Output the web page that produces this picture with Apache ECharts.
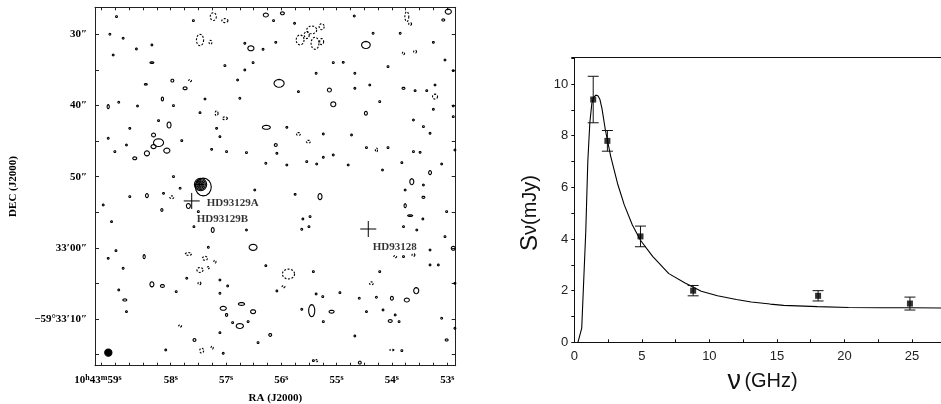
<!DOCTYPE html>
<html><head><meta charset="utf-8">
<script src="https://cdn.jsdelivr.net/npm/echarts@6/dist/echarts.min.js"></script>
<style>html,body{margin:0;padding:0;background:#fff}#c{width:941px;height:404px}</style>
</head><body><div id="c"></div>
<script>
// ================= LEFT PANEL: contour map (RA seconds of 10h43m, Dec arcsec past -59°32') =================
const raRange = [52.846, 59.369];
const decRange = [26.21, 76.55];
const raTickValues = [53,53.25,53.5,53.75,54,54.25,54.5,54.75,55,55.25,55.5,55.75,56,56.25,56.5,56.75,57,57.25,57.5,57.75,58,58.25,58.5,58.75,59,59.25];
const raLabelValues = [53,54,55,56,57,58,59];
const raLabels = ['53','54','55','56','57','58','59'];
const decTickValues = [30,35,40,45,50,55,60,65,70,75];
const decLabelValues = [30,40,50,60,70];
const decLabels = ['30″','40″','50″','33′00″','−59°33′10″'];

const T = 0.25; // tiny contour islands (arcsec)
// positive contours: [RA s, Dec ", width ", height "]
const posContours = [
[58.98,27.52,T,T],[57.59,28.08,T,T],[56.28,27.29,0.7,0.55],[56.14,28.08,T,T],[55.98,27.05,0.55,0.4],[55.76,28.46,T,T],[54.68,27.43,T,T],[52.98,26.82,0.85,0.7],[53.07,27.99,0.4,0.3],
[59.10,30.00,T,T],[58.86,30.56,T,T],[58.34,31.50,T,T],[58.62,32.06,T,T],[59.04,32.91,T,T],[56.66,31.27,T,T],[56.55,31.97,0.85,0.7],[56.33,32.11,T,T],[56.10,31.13,T,T],[54.47,31.50,1.2,1.0],[54.34,29.86,T,T],[53.85,29.86,T,T],[53.25,31.13,T,T],
[58.34,33.98,0.55,0.2],[57.02,34.40,T,T],[56.66,35.01,T,T],[56.51,33.98,T,T],[55.06,33.98,T,T],[54.88,33.94,T,T],[55.37,35.48,T,T],[54.67,35.48,T,T],[54.07,34.54,T,T],[53.04,33.61,T,T],[52.89,35.11,T,T],
[57.97,36.51,0.4,0.4],[57.74,37.59,0.55,0.4],[58.45,37.03,0.4,0.2],[56.79,36.42,T,T],[56.04,36.89,1.4,1.1],[55.69,38.06,T,T],[55.13,37.82,0.55,0.55],[54.67,37.59,T,T],[54.40,37.12,T,T],[53.79,37.59,0.4,0.3],[53.58,37.92,T,T],[53.37,37.92,T,T],[53.22,37.12,T,T],
[58.15,39.09,0.3,0.55],[58.94,39.55,T,T],[59.13,40.16,0.3,0.55],[58.60,40.07,T,T],[57.95,40.02,T,T],[57.38,39.09,T,T],[56.75,38.99,T,T],[55.06,39.83,0.7,0.7],[54.22,39.46,T,T],[53.25,40.54,T,T],[52.89,40.07,T,T],
[57.47,41.01,T,T],[58.03,42.74,0.55,0.85],[58.22,42.13,T,T],[58.74,43.21,T,T],[57.17,43.21,T,T],[57.11,44.38,T,T],[56.27,43.07,1.1,0.55],[55.90,43.07,T,T],[54.47,41.10,0.4,0.55],[53.61,42.04,T,T],[53.43,42.97,T,T],[52.89,41.57,T,T],
[59.13,44.61,T,T],[58.80,45.55,T,T],[58.31,44.14,0.55,0.55],[58.22,45.22,1.4,1.1],[58.31,45.78,0.7,0.55],[58.43,46.72,0.7,0.7],[58.65,47.42,0.55,0.4],[58.07,46.34,0.85,0.7],[57.80,44.94,T,T],[57.26,46.16,T,T],[56.99,46.48,T,T],[56.63,46.62,T,T],[56.10,45.55,0.4,0.4],[56.08,46.72,T,T],[55.24,44.00,T,T],[54.73,44.14,T,T],[54.46,45.92,T,T],[54.07,45.92,T,T],[53.61,46.48,T,T],[53.49,46.58,T,T],[53.31,43.91,T,T],[52.86,46.25,T,T],[59.01,46.48,T,T],
[55.54,47.89,T,T],[55.36,48.22,T,T],[55.24,47.28,T,T],[55.06,46.95,T,T],[56.28,48.12,T,T],[55.90,48.36,T,T],[54.79,48.36,T,T],[54.17,49.06,T,T],[53.82,48.03,T,T],[53.31,49.43,0.4,0.55],[53.10,48.22,T,T],
[53.64,50.70,0.55,0.85],[53.43,51.17,T,T],[53.76,51.87,T,T],[53.43,52.90,0.4,0.3],[53.76,54.07,0.3,0.55],[53.67,55.47,0.7,0.15],[53.44,55.94,T,T],[53.01,54.91,T,T],[53.79,57.02,T,T],[53.55,57.49,T,T],[53.04,58.42,T,T],[52.89,60.06,0.55,0.55],
[55.30,52.80,0.55,0.85],[55.75,52.48,T,T],[56.48,51.87,T,T],[56.63,57.49,T,T],[55.61,55.94,T,T],[55.48,55.61,T,T],[55.63,57.39,T,T],[55.50,57.02,T,T],[57.24,57.49,0.4,0.7],[57.58,57.02,T,T],[59.22,53.97,T,T],[59.07,56.32,T,T],[58.43,52.66,0.4,0.55],[58.16,54.68,0.3,0.4],[58.74,52.80,T,T],[58.13,52.34,T,T],[57.95,49.99,T,T],[57.83,51.63,T,T],[57.68,54.11,0.55,0.7],[57.50,54.91,T,T],
[56.51,59.92,1.1,0.85],[57.32,59.92,T,T],[58.99,60.39,T,T],[59.13,61.47,T,T],[58.48,61.23,0.3,0.55],[57.71,64.27,T,T],[57.11,64.51,T,T],[56.97,65.35,T,T],[57.11,66.38,T,T],[58.34,65.12,0.55,0.7],[58.15,65.35,0.55,0.4],[58.86,62.87,T,T],[58.94,65.91,T,T],[57.90,66.15,T,T],[58.83,67.32,0.55,0.3],[58.80,68.96,T,T],[56.28,62.50,T,T],[56.08,66.05,T,T],[55.42,63.34,T,T],[55.37,66.47,T,T],[55.25,66.85,T,T],[54.94,66.29,T,T],[54.22,63.34,T,T],[54.59,67.08,T,T],[54.28,66.94,T,T],[54.00,67.08,0.4,0.55],[53.73,67.32,0.7,0.55],[53.56,66.01,0.7,0.85],[53.31,60.30,T,T],[53.79,61.23,T,T],[53.31,62.40,T,T],[53.16,62.40,T,T],[52.86,64.98,T,T],
[55.45,68.82,0.85,1.7],[55.63,68.63,T,T],[55.09,68.96,0.7,0.4],[55.24,70.36,T,T],[57.05,68.49,0.85,0.55],[56.99,69.42,0.3,0.4],[56.72,67.88,0.85,0.4],[56.51,68.96,0.7,0.55],[56.75,70.97,1.0,0.7],[56.60,70.36,T,T],[56.88,70.50,T,T],[54.46,68.96,T,T],[54.16,68.72,T,T],[54.03,70.27,0.55,0.4],[53.94,69.42,T,T],[53.87,70.36,T,T],[53.10,69.89,T,T],[52.86,71.30,T,T],[53.01,72.94,0.4,0.3],[54.67,72.37,T,T],[56.20,72.23,0.4,0.4],[56.42,73.31,T,T],[57.11,71.91,T,T],[57.57,72.94,0.4,0.4],[57.05,74.81,T,T],[58.09,74.34,T,T],[53.82,74.43,T,T],[54.58,76.12,0.4,0.4],[55.42,75.84,T,T]
];
// negative (dashed) contours
const negContours = [
[57.23,27.52,0.85,1.1],[57.02,28.08,0.85,0.55],[55.66,30.80,1.1,1.4],[55.45,29.39,1.4,1.1],[55.39,31.27,1.1,1.7],[55.27,28.93,0.7,0.85],[55.54,30.10,0.7,1.0],[55.27,31.03,0.55,0.85],[53.73,27.52,0.55,1.4],[53.67,28.55,0.4,0.4],[57.47,30.80,1.0,1.6],[57.28,31.13,0.4,0.55],[53.79,32.67,0.3,0.4],[53.58,32.44,0.4,0.4],[57.65,36.51,0.4,0.3],[53.22,38.76,0.7,0.7],[57.17,41.10,0.4,0.7],[57.02,41.80,0.7,0.4],[55.69,44.00,0.55,0.4],[55.51,45.08,0.55,0.4],[54.28,46.25,0.3,0.55],[57.98,52.90,0.55,0.4],[57.68,60.86,0.85,0.4],[57.38,61.47,0.7,0.55],[57.20,61.93,0.3,0.4],[57.47,63.10,0.85,0.7],[57.32,62.78,0.3,0.3],[57.48,64.98,0.4,0.4],[55.87,63.67,1.7,1.4],[55.96,65.45,0.4,0.3],[54.37,64.98,0.55,0.4],[53.94,61.23,0.4,0.3],[53.61,61.00,0.4,0.4],[57.83,70.97,0.4,0.3],[57.44,74.43,0.55,0.7],[57.25,74.01,0.3,0.4],[54.00,74.34,0.55,0.2],[55.36,75.84,0.3,0.3]
];
// the detected source (nested contours)
const sourceContours = [[57.41,51.45,2.2,2.5],[57.46,51.10,1.7,1.75],[57.46,51.10,1.35,1.4],[57.46,51.10,1.0,1.05],[57.46,51.10,0.7,0.75],[57.46,51.10,0.4,0.45]];
const starNames = ['HD93129A','HD93129B','HD93128'];
const starLabelRA = [57.349, 57.53, 54.347];
const starLabelDec = [53.69, 55.94, 59.94];
const crossRA = [57.62, 54.427];
const crossDec = [53.41, 57.35];
const plusRA = [57.47];
const plusDec = [51.1];
const beam = [[59.128, 74.72, 1.0, 1.0]];

// ================= RIGHT PANEL: spectrum =================
const freqGHz = [1.4, 2.45, 4.9, 8.8, 18.05, 24.85];
const fluxMJy = [9.4, 7.8, 4.1, 2.0, 1.8, 1.5];
const errLow  = [8.5, 7.4, 3.7, 1.8, 1.6, 1.25];
const errHigh = [10.3, 8.2, 4.5, 2.2, 2.0, 1.75];
const fitX = [0.27,0.55,0.85,1.0,1.15,1.3,1.45,1.6,1.75,1.9,2.05,2.3,2.7,3.2,3.7,4.3,4.9,5.8,7.0,8.2,9.4,10.6,12.0,13.1,14.5,15.5,17.0,18.0,20.3,22.8,25.0,27.2];
const fitY = [0,0.55,4.3,7.0,8.5,9.25,9.5,9.57,9.55,9.4,9.05,8.22,7.19,6.15,5.32,4.54,3.95,3.33,2.66,2.3,1.98,1.8,1.66,1.56,1.48,1.43,1.4,1.38,1.35,1.34,1.34,1.33];

const ARCSEC_PER_RASEC = 7.65; // 15*cos(dec)
const SERIF = 'Liberation Serif, Times New Roman, serif';
const SANS = 'Liberation Sans, Arial, sans-serif';
const AX = '#222';

function ellipseItem(dashed, filled) {
  return function (params, api) {
    const c = api.coord([api.value(0), api.value(1)]);
    const s = api.size([api.value(2) / ARCSEC_PER_RASEC, api.value(3)]);
    const rx = Math.max(Math.abs(s[0]) / 2, 0.8), ry = Math.max(Math.abs(s[1]) / 2, 0.8);
    const pts = [];
    const n = 16;
    for (let i = 0; i < n; i++) { const a = i / n * 2 * Math.PI; pts.push([c[0] + rx * Math.cos(a), c[1] + ry * Math.sin(a)]); }
    return { type: 'polygon', shape: { points: pts },
      style: { fill: filled ? '#000' : 'none', stroke: '#000', lineWidth: 1.1, lineDash: dashed ? [2, 1.6] : null } };
  };
}
function crossItem(arm) {
  return function (params, api) {
    const c = api.coord([api.value(0), api.value(1)]);
    return { type: 'group', children: [
      { type: 'line', shape: { x1: c[0] - arm, y1: c[1], x2: c[0] + arm, y2: c[1] }, style: { stroke: '#000', lineWidth: 1 } },
      { type: 'line', shape: { x1: c[0], y1: c[1] - arm, x2: c[0], y2: c[1] + arm }, style: { stroke: '#000', lineWidth: 1 } }
    ] };
  };
}
function raFmt(v) {
  const i = raLabelValues.findIndex(x => Math.abs(x - v) < 1e-6);
  if (i < 0) return '';
  if (raLabels[i] === '59') return '{n|10}{u|h}{n|43}{u|m}{n|59}{u|s}{pad| }';
  return '{n|' + raLabels[i] + '}{u|s}';
}
function decFmt(v) {
  const i = decLabelValues.findIndex(x => Math.abs(x - v) < 1e-6);
  return i < 0 ? '' : decLabels[i];
}
const labRich = {
  n: { fontFamily: SERIF, fontWeight: 'bold', fontSize: 11, color: '#000', lineHeight: 13 },
  u: { fontFamily: SERIF, fontWeight: 'bold', fontSize: 8, color: '#000', lineHeight: 8, verticalAlign: 'top' },
  pad: { width: 35, fontSize: 11, lineHeight: 13 }
};
const leftLine = { show: true, onZero: false, lineStyle: { color: AX, width: 1 } };

const chart = echarts.init(document.getElementById('c'), null, { renderer: 'canvas' });
chart.setOption({
  animation: false,
  backgroundColor: '#fff',
  grid: [
    { left: 95, top: 7.3, width: 360.7, height: 358.4, containLabel: false, outerBoundsMode: 'none' },
    { left: 574.3, top: 57.7, width: 366.7, height: 284.6, containLabel: false, outerBoundsMode: 'none' }
  ],
  xAxis: [
    { gridIndex: 0, type: 'value', min: raRange[0], max: raRange[1], inverse: true, position: 'bottom',
      axisLine: leftLine, splitLine: { show: false },
      axisTick: { show: true, inside: true, length: 3, customValues: raTickValues, lineStyle: { color: AX } },
      axisLabel: { show: true, customValues: raLabelValues, formatter: raFmt, margin: 8, rich: labRich },
      name: 'RA (J2000)', nameLocation: 'middle', nameGap: 27,
      nameTextStyle: { fontFamily: SERIF, fontWeight: 'bold', fontSize: 11, color: '#000' } },
    { gridIndex: 0, type: 'value', min: raRange[0], max: raRange[1], inverse: true, position: 'top',
      axisLine: leftLine, splitLine: { show: false },
      axisTick: { show: true, inside: true, length: 3, customValues: raTickValues, lineStyle: { color: AX } },
      axisLabel: { show: false } },
    { gridIndex: 1, type: 'value', min: 0, max: 27.15, interval: 5, position: 'bottom',
      axisLine: { show: true, onZero: false, lineStyle: { color: '#111', width: 1 } }, splitLine: { show: false },
      axisTick: { show: true, inside: true, length: 3, lineStyle: { color: '#111' } },
      minorTick: { show: true, splitNumber: 2, length: 3, lineStyle: { color: '#111' } },
      axisLabel: { show: true, margin: 8, showMaxLabel: false, fontFamily: SANS, fontSize: 13, color: '#222' },
      name: '{v|ν} {g|(GHz)}', nameLocation: 'middle', nameGap: 26,
      nameTextStyle: { padding: [0, 0, 0, 10], rich: {
        v: { fontFamily: SANS, fontSize: 27, color: '#111' },
        g: { fontFamily: SANS, fontSize: 20, color: '#111' } } } },
    { gridIndex: 1, type: 'value', min: 0, max: 27.15, position: 'top',
      axisLine: { show: true, onZero: false, lineStyle: { color: '#111', width: 1 } }, splitLine: { show: false },
      axisTick: { show: false }, axisLabel: { show: false } }
  ],
  yAxis: [
    { gridIndex: 0, type: 'value', min: decRange[0], max: decRange[1], inverse: true, position: 'left',
      axisLine: leftLine, splitLine: { show: false },
      axisTick: { show: true, inside: true, length: 4, customValues: decTickValues, lineStyle: { color: AX } },
      axisLabel: { show: true, customValues: decLabelValues, formatter: decFmt, margin: 8,
        fontFamily: SERIF, fontWeight: 'bold', fontSize: 11, color: '#000' },
      name: 'DEC (J2000)', nameLocation: 'middle', nameGap: 76,
      nameTextStyle: { fontFamily: SERIF, fontWeight: 'bold', fontSize: 11, color: '#000' } },
    { gridIndex: 0, type: 'value', min: decRange[0], max: decRange[1], inverse: true, position: 'right',
      axisLine: leftLine, splitLine: { show: false },
      axisTick: { show: true, inside: true, length: 4, customValues: decTickValues, lineStyle: { color: AX } },
      axisLabel: { show: false } },
    { gridIndex: 1, type: 'value', min: 0, max: 11.02, interval: 2, position: 'left',
      axisLine: { show: true, onZero: false, lineStyle: { color: '#111', width: 1 } }, splitLine: { show: false },
      axisTick: { show: true, inside: false, length: 3, lineStyle: { color: '#111' } },
      minorTick: { show: true, splitNumber: 2, length: 3, lineStyle: { color: '#111' } },
      axisLabel: { show: true, margin: 6, showMaxLabel: false, fontFamily: SANS, fontSize: 13, color: '#222' },
      name: '{s|S}{v|ν(mJy)}', nameLocation: 'middle', nameGap: 32,
      nameTextStyle: { padding: [0, 26, 0, 0], rich: {
        s: { fontFamily: SANS, fontSize: 24, color: '#111' },
        v: { fontFamily: SANS, fontSize: 20, color: '#111' } } } }
  ],
  series: [
    { type: 'custom', xAxisIndex: 0, yAxisIndex: 0, renderItem: ellipseItem(false, false), data: posContours, silent: true },
    { type: 'custom', xAxisIndex: 0, yAxisIndex: 0, renderItem: ellipseItem(true, false), data: negContours, silent: true },
    { type: 'custom', xAxisIndex: 0, yAxisIndex: 0, renderItem: ellipseItem(false, false), data: sourceContours, silent: true },
    { type: 'custom', xAxisIndex: 0, yAxisIndex: 0, renderItem: ellipseItem(false, true), data: beam, silent: true },
    { type: 'custom', xAxisIndex: 0, yAxisIndex: 0, renderItem: crossItem(8), data: crossRA.map((r, i) => [r, crossDec[i]]), silent: true },
    { type: 'custom', xAxisIndex: 0, yAxisIndex: 0, renderItem: crossItem(4), data: plusRA.map((r, i) => [r, plusDec[i]]), silent: true },
    { type: 'scatter', xAxisIndex: 0, yAxisIndex: 0, symbolSize: 0, silent: true,
      data: starNames.map((n, i) => ({ value: [starLabelRA[i], starLabelDec[i]], name: n })),
      label: { show: true, position: [0, 0], align: 'left', verticalAlign: 'middle', formatter: p => p.name,
        fontFamily: SERIF, fontWeight: 'bold', fontSize: 11, color: '#000' } },
    // right panel
    { type: 'line', xAxisIndex: 2, yAxisIndex: 2, data: fitX.map((x, i) => [x, fitY[i]]), showSymbol: false,
      lineStyle: { color: '#000', width: 1.1 }, smooth: false, silent: true, z: 3 },
    { type: 'custom', xAxisIndex: 2, yAxisIndex: 2, silent: true, z: 4,
      data: freqGHz.map((f, i) => [f, errLow[i], errHigh[i]]),
      renderItem: function (params, api) {
        const lo = api.coord([api.value(0), api.value(1)]);
        const hi = api.coord([api.value(0), api.value(2)]);
        const hw = 5.5, st = { stroke: '#111', lineWidth: 1 };
        return { type: 'group', children: [
          { type: 'line', shape: { x1: lo[0], y1: lo[1], x2: hi[0], y2: hi[1] }, style: st },
          { type: 'line', shape: { x1: lo[0] - hw, y1: lo[1], x2: lo[0] + hw, y2: lo[1] }, style: st },
          { type: 'line', shape: { x1: hi[0] - hw, y1: hi[1], x2: hi[0] + hw, y2: hi[1] }, style: st }
        ] };
      } },
    { type: 'scatter', xAxisIndex: 2, yAxisIndex: 2, symbol: 'rect', symbolSize: 6, silent: true, z: 5,
      data: freqGHz.map((f, i) => [f, fluxMJy[i]]), itemStyle: { color: '#000' } }
  ]
});
</script></body></html>
